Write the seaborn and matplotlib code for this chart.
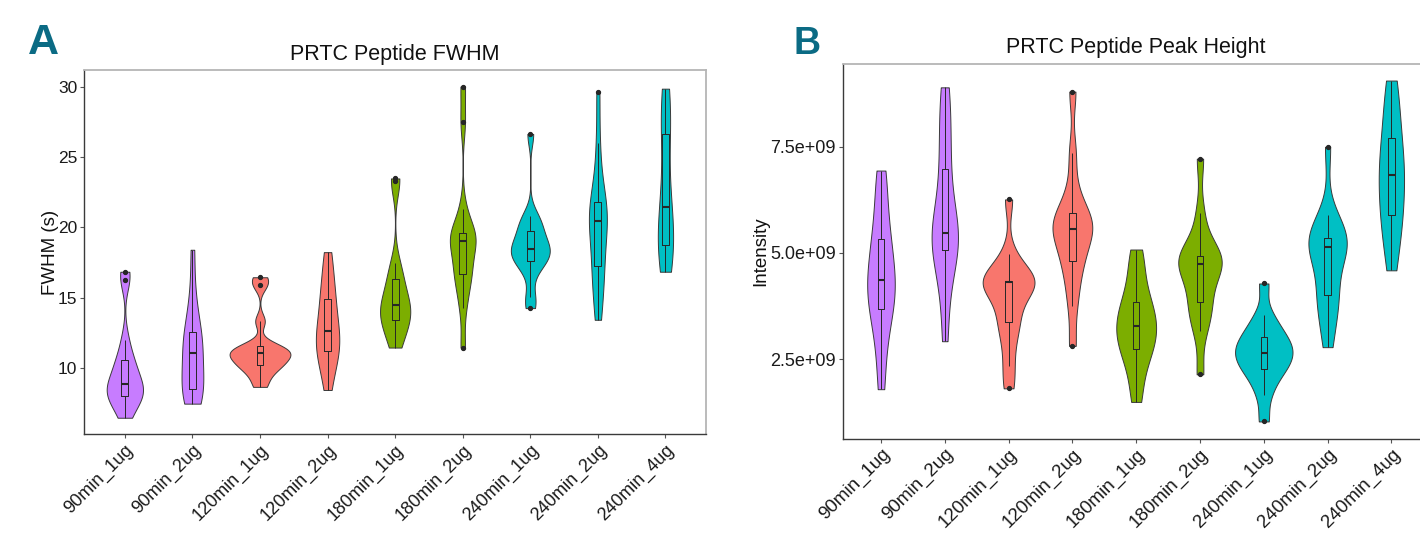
import numpy as np
import pandas as pd
import matplotlib
matplotlib.use("Agg")
import matplotlib.pyplot as plt
from matplotlib.ticker import FuncFormatter
import seaborn as sns

# ---------------- data ----------------
groups = ["90min_1ug", "90min_2ug", "120min_1ug", "120min_2ug", "180min_1ug",
          "180min_2ug", "240min_1ug", "240min_2ug", "240min_4ug"]

group_colors = ["#C77CFF", "#C77CFF", "#F8766D", "#F8766D", "#7CAE00",
                "#7CAE00", "#00BFC4", "#00BFC4", "#00BFC4"]

# FWHM (s) for the 15 PRTC peptides
fwhm_90min_1ug = [6.5, 7.3, 7.8, 8.0, 8.15, 8.5, 8.7, 8.88, 9.3, 9.9, 10.4, 10.75, 12.04, 16.28, 16.86]
fwhm_90min_2ug = [7.5, 7.9, 8.3, 8.5, 8.62, 9.3, 10.2, 11.07, 11.4, 11.8, 12.3, 12.86, 13.8, 15.5, 18.42]
fwhm_120min_1ug = [8.69, 9.4, 9.9, 10.2, 10.34, 10.6, 10.85, 11.07, 11.1, 11.3, 11.5, 11.62, 13.35, 15.89, 16.47]
fwhm_120min_2ug = [8.47, 9.8, 10.5, 11.1, 11.44, 11.8, 12.2, 12.65, 13.1, 13.9, 14.7, 15.22, 16.0, 17.2, 18.25]
fwhm_180min_1ug = [11.48, 12.2, 12.8, 13.3, 13.6, 13.9, 14.2, 14.5, 14.8, 15.3, 16.1, 16.64, 17.45, 23.3, 23.48]
fwhm_180min_2ug = [11.48, 14.27, 15.6, 16.4, 16.94, 17.3, 18.2, 19.05, 19.2, 19.4, 19.55, 19.73, 21.29, 27.45, 30.0]
fwhm_240min_1ug = [14.28, 15.1, 16.9, 17.5, 17.78, 18.0, 18.25, 18.47, 18.7, 19.0, 19.5, 20.02, 20.4, 20.85, 26.64]
fwhm_240min_2ug = [13.45, 14.8, 16.0, 17.0, 17.54, 18.6, 19.8, 20.44, 20.7, 21.0, 21.5, 22.14, 23.5, 26.0, 29.61]
fwhm_240min_4ug = [16.86, 17.5, 18.2, 18.6, 18.96, 19.5, 20.2, 21.48, 22.0, 23.5, 26.2, 27.08, 28.0, 29.2, 29.85]

# Peak height intensity (x 1e9)
peak_90min_1ug = [1.79, 2.6, 3.2, 3.6, 3.78, 4.0, 4.2, 4.36, 4.6, 4.85, 5.2, 5.44, 5.9, 6.5, 6.94]
peak_90min_2ug = [2.92, 3.9, 4.6, 5.0, 5.16, 5.3, 5.4, 5.47, 5.7, 6.1, 6.7, 7.24, 7.8, 8.4, 8.90]
peak_120min_1ug = [1.81, 2.34, 2.9, 3.3, 3.46, 3.8, 4.1, 4.31, 4.32, 4.33, 4.33, 4.35, 4.6, 4.97, 6.26]
peak_120min_2ug = [2.81, 3.76, 4.3, 4.7, 4.92, 5.2, 5.4, 5.56, 5.65, 5.75, 5.85, 6.01, 6.5, 7.36, 8.80]
peak_180min_1ug = [1.49, 2.0, 2.45, 2.65, 2.81, 3.0, 3.15, 3.27, 3.4, 3.6, 3.78, 3.92, 4.3, 4.7, 5.08]
peak_180min_2ug = [2.14, 3.15, 3.5, 3.75, 3.93, 4.3, 4.55, 4.74, 4.8, 4.85, 4.9, 4.96, 5.3, 5.94, 7.22]
peak_240min_1ug = [1.03, 1.65, 2.0, 2.2, 2.32, 2.45, 2.55, 2.65, 2.75, 2.85, 2.98, 3.08, 3.3, 3.54, 4.28]
peak_240min_2ug = [2.78, 3.3, 3.7, 3.95, 4.09, 4.5, 4.9, 5.13, 5.2, 5.25, 5.3, 5.4, 5.6, 5.89, 7.50]
peak_240min_4ug = [4.59, 5.1, 5.5, 5.8, 5.98, 6.3, 6.6, 6.84, 7.0, 7.25, 7.55, 7.85, 8.3, 8.7, 9.06]
PEAK_UNIT = 1e9

fwhm_sets = [fwhm_90min_1ug, fwhm_90min_2ug, fwhm_120min_1ug, fwhm_120min_2ug, fwhm_180min_1ug,
             fwhm_180min_2ug, fwhm_240min_1ug, fwhm_240min_2ug, fwhm_240min_4ug]
peak_sets = [peak_90min_1ug, peak_90min_2ug, peak_120min_1ug, peak_120min_2ug, peak_180min_1ug,
             peak_180min_2ug, peak_240min_1ug, peak_240min_2ug, peak_240min_4ug]


def long_df(sets, unit=1.0):
    rows = []
    for g, vals in zip(groups, sets):
        for v in vals:
            rows.append((g, v * unit))
    return pd.DataFrame(rows, columns=["group", "value"])


dfA = long_df(fwhm_sets)
dfB = long_df(peak_sets, PEAK_UNIT)
palette = dict(zip(groups, group_colors))


def nrd0(kde):
    """R's bw.nrd0 expressed as a scipy bandwidth factor."""
    x = kde.dataset[0]
    sd = np.std(x, ddof=1)
    q75, q25 = np.percentile(x, [75, 25])
    lo = min(sd, (q75 - q25) / 1.34)
    return 0.9 * lo * len(x) ** (-0.2) / sd


# ---------------- style ----------------
sns.set_theme(style="white")
plt.rcParams["font.family"] = ["Liberation Sans", "DejaVu Sans"]

W, H = 1420, 539
fig = plt.figure(figsize=(W / 100, H / 100), dpi=100)


def px_axes(left, top, right, bottom):
    return fig.add_axes([left / W, 1 - bottom / H, (right - left) / W, (bottom - top) / H])


axA = px_axes(84.3, 70, 706, 434.3)
axB = px_axes(842.7, 63.5, 842.7 + 9.2 * 63.8, 438.5)


def draw(ax, df, tick_size, xtick_size, title):
    sns.violinplot(data=df, x="group", y="value", hue="group", order=groups, hue_order=groups,
                   palette=palette, cut=0, density_norm="area", common_norm=True,
                   inner=None, width=0.9,
                   linewidth=0.7, linecolor="#3a3a3a", bw_method=nrd0, gridsize=512,
                   saturation=1, legend=False, ax=ax)
    sns.boxplot(data=df, x="group", y="value", order=groups, width=0.1, fill=False,
                color="#262626", linewidth=0.7, showcaps=False, whis=1.5,
                flierprops=dict(marker="o", markersize=2.8, markerfacecolor="#262626",
                                markeredgecolor="#262626"),
                medianprops=dict(linewidth=1.5), ax=ax)
    vmin, vmax = df["value"].min(), df["value"].max()
    span = vmax - vmin
    ax.set_ylim(vmin - 0.05 * span, vmax + 0.05 * span)
    ax.set_xlim(-0.6, len(groups) - 0.4)
    ax.set_xlabel("")
    ax.set_title(title, fontsize=15.5, pad=7.5, color="#111111")
    for side in ["left", "bottom"]:
        ax.spines[side].set_color("#3a3a3a")
        ax.spines[side].set_linewidth(1.0)
    for side in ["top", "right"]:
        ax.spines[side].set_color("#b5b5b5")
        ax.spines[side].set_linewidth(1.3)
    ax.tick_params(axis="both", length=3, width=0.8, color="#555555", pad=2,
                   labelsize=tick_size, labelcolor="#1a1a1a", left=True, bottom=True)
    ax.set_xticks(range(len(groups)))
    ax.set_xticklabels(groups, rotation=45, ha="right", va="top", rotation_mode="anchor",
                       fontsize=xtick_size)


draw(axA, dfA, 12.5, 13, "PRTC Peptide FWHM")
axA.set_yticks([10, 15, 20, 25, 30])
axA.set_ylabel("FWHM (s)", fontsize=13.5, color="#111111")
axA.yaxis.set_label_coords(-0.040, 0.5)

draw(axB, dfB, 13, 13.5, "PRTC Peptide Peak Height")
axB.set_yticks([2.5e9, 5.0e9, 7.5e9])
axB.yaxis.set_major_formatter(FuncFormatter(lambda v, p: f"{v:.1e}"))
axB.set_ylabel("Intensity", fontsize=13.5, color="#111111")
axB.yaxis.set_label_coords(-0.1256, 0.5)

panel_color = "#0b6b84"
fig.text(28 / W, 1 - 54 / H, "A", fontsize=31, fontweight="bold", color=panel_color,
         ha="left", va="baseline")
fig.text(794 / W, 1 - 54 / H, "B", fontsize=27, fontweight="bold", color=panel_color,
         ha="left", va="baseline")

fig.savefig("out.png", dpi=100)
